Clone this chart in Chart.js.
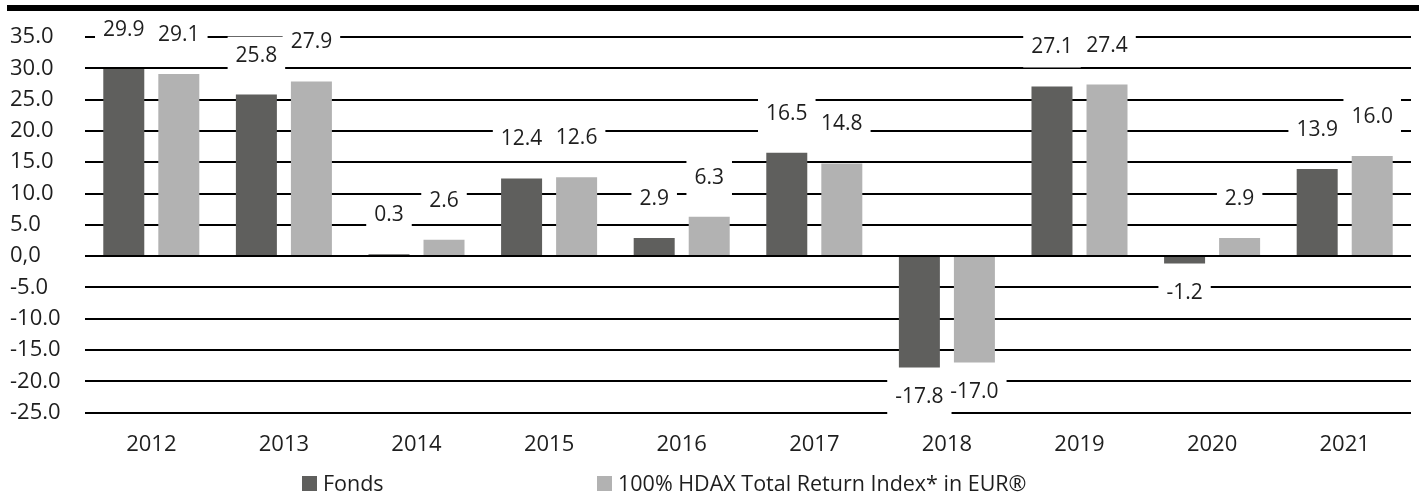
<!DOCTYPE html>
<html>
<head>
<meta charset="utf-8">
<script src="https://cdn.jsdelivr.net/npm/chart.js@4"></script>
<style>
  body { margin: 0; background: #fff; }
  #wrap { position: relative; width: 1419px; height: 495px; font-family: "Open Sans", sans-serif; }
  #topRule { position: absolute; left: 7px; right: 0; top: 5px; height: 6px; background: #000; }
  .legItem { position: absolute; top: 470px; display: flex; align-items: center; font-size: 21.5px; color: #1e1e1e; line-height: 26px; }
  .legItem span.box { display: inline-block; width: 15px; height: 15px; margin-right: 6px; }
</style>
</head>
<body>
<div id="wrap">
  <canvas id="canvas" width="1419" height="495"></canvas>
  <div id="topRule"></div>
  <div class="legItem" style="left:302px"><span class="box" style="background:#5f5f5d"></span>Fonds</div>
  <div class="legItem" style="left:597px"><span class="box" style="background:#b2b2b2"></span>100% HDAX Total Return Index* in EUR®</div>
</div>
<script>
const years = ["2012", "2013", "2014", "2015", "2016", "2017", "2018", "2019", "2020", "2021"];
const fonds = [29.9, 25.8, 0.3, 12.4, 2.9, 16.5, -17.8, 27.1, -1.2, 13.9];
const hdax = [29.1, 27.9, 2.6, 12.6, 6.3, 14.8, -17.0, 27.4, 2.9, 16.0];
const seriesNames = ["Fonds", "100% HDAX Total Return Index* in EUR®"];

const labelFont = '21px "Open Sans"';

// value labels with a white box that hides the grid lines behind them
const valueLabels = {
  id: "valueLabels",
  afterDatasetsDraw(chart) {
    const ctx = chart.ctx;
    const items = [];
    ctx.save();
    ctx.font = labelFont;
    chart.data.datasets.forEach((ds, i) => {
      const meta = chart.getDatasetMeta(i);
      meta.data.forEach((bar, j) => {
        const v = ds.data[j];
        const text = v.toFixed(1);
        const y = v >= 0 ? bar.y - 39 : bar.y + 29;
        const w = ctx.measureText(text).width + 16;
        items.push({ x: bar.x, y: y, w: w, text: text });
      });
    });
    ctx.fillStyle = "#fff";
    items.forEach(it => ctx.fillRect(it.x - it.w / 2, it.y - 19, it.w, 39));
    ctx.fillStyle = "#1e1e1e";
    ctx.textAlign = "center";
    ctx.textBaseline = "middle";
    items.forEach(it => ctx.fillText(it.text, it.x, it.y));
    ctx.restore();
  }
};

const canvas = document.querySelector("#canvas");
const chart = new Chart(canvas, {
  type: "bar",
  data: {
    labels: years,
    datasets: [
      {
        label: seriesNames[0],
        data: fonds,
        backgroundColor: "#5f5f5d",
        barPercentage: 0.745,
        categoryPercentage: 0.83,
      },
      {
        label: seriesNames[1],
        data: hdax,
        backgroundColor: "#b2b2b2",
        barPercentage: 0.745,
        categoryPercentage: 0.83,
      },
    ],
  },
  options: {
    responsive: false,
    animation: false,
    layout: { padding: { left: 10, right: 8, top: 37, bottom: 18 } },
    plugins: {
      legend: { display: false },
      tooltip: { enabled: false },
    },
    scales: {
      x: {
        grid: { display: false, drawTicks: false },
        border: { display: false },
        ticks: { color: "#1e1e1e", font: { family: "Open Sans", size: 22 }, padding: 19 },
      },
      y: {
        min: -25,
        max: 35,
        grid: { color: "#000", lineWidth: 2, drawTicks: false },
        border: { display: false },
        afterFit(scale) { scale.width = 75; },
        ticks: {
          stepSize: 5,
          crossAlign: "far",
          color: "#1e1e1e",
          font: { family: "Open Sans", size: 22 },
          callback: (v) => (v === 0 ? "0,0" : v.toFixed(1)),
        },
      },
    },
  },
  plugins: [valueLabels],
});
</script>
</body>
</html>
